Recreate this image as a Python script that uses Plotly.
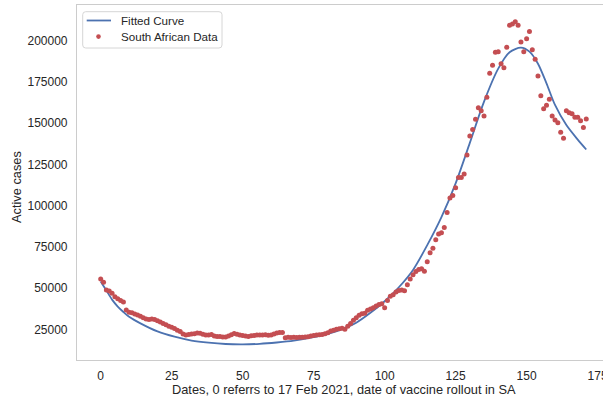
import plotly.graph_objects as go

# ---- data ----
days = list(range(0, 172))
active_cases = [
    55500, 53500, 48800, 48200, 46800, 44800, 43500, 42400, 41500, 36700,
    35300, 35000, 34300, 33600, 32900, 32000, 31200, 31000, 31200, 31000,
    30200, 29400, 28500, 27700, 26800, 26200, 25500, 24500, 23700, 22200,
    21500, 21800, 22100, 22300, 22700, 22600, 22000, 21500, 21600, 21800,
    21000, 20700, 20600, 20400, 20400, 21000, 21700, 22400, 22000, 21600,
    21200, 20900, 20600, 21100, 21300, 21500, 21500, 21600, 21700, 21400,
    21500, 22200, 22800, 23000, 23000, 19900, 20150, 20100, 20150, 20000,
    20150, 20200, 20300, 20500, 20900, 21300, 21500, 21700, 21800, 22300,
    22900, 23900, 24500, 25000, 25400, 25600, 25000, 26800, 28500, 30500,
    32000, 33500, 34500, 34700, 36500, 37300, 38000, 39200, 40000, 40500,
    38100, 42500, 45000, 46000, 47600, 48500, 48800, 48400, 52000, 55500,
    58000, 60000, 61300, 61700, 60200, 66000, 71400, 74200, 79300, 82800,
    83500, 86700, 95800, 104600, 106100, 110800, 117100, 117100, 119100, 130700,
    142200, 146200, 152300, 159300, 157500, 154300, 165600, 180200, 185000, 192900,
    193300, 186000, 183600, 196000, 209300, 210100, 211500, 209300, 199200, 193300,
    201200, 205600, 194400, 188700, 178500, 166600, 158700, 160800, 164400, 154300,
    151900, 150200, 144400, 140800, 157500, 156300, 155700, 153500, 153500, 151400,
    147400, 152500,
]

fit_days = [0, 2, 4, 6, 8, 10, 14, 20, 26, 32, 38, 44, 50, 56, 62, 68, 74, 80,
            86, 90, 95, 100, 105, 110, 115, 120, 125, 130, 135, 140, 144, 148,
            151, 154, 157, 160, 164, 168, 171]
fit_values = [54000, 48500, 43000, 38800, 35500, 32600, 28600, 23700, 20500,
              18200, 16900, 16100, 15900, 16200, 17000, 18100, 19900, 22200,
              25700, 29000, 35000, 42000, 50500, 61000, 76000, 93000, 113500,
              138000, 163000, 183000, 193000, 195700, 193300, 186000, 174100,
              161000, 148800, 140000, 134000]

x_ticks = [0, 25, 50, 75, 100, 125, 150, 175]
y_ticks = [25000, 50000, 75000, 100000, 125000, 150000, 175000, 200000]

x_title = "Dates, 0 referrs to 17 Feb 2021, date of vaccine rollout in SA"
y_title = "Active cases"
legend_names = ["Fitted Curve", "South African Data"]

text_color = "#262626"
spine_color = "#cccccc"
line_color = "#4C72B0"
dot_color = "#C44E52"
font_family = "Liberation Sans, Arial, sans-serif"

W, H = 603, 403
ML, MR, MT, MB = 77, 0, 5, 43
PW, PH = W - ML - MR, H - MT - MB


def px_x(p):
    return (p - ML) / PW


def px_y(p):
    return (H - MB - p) / PH


def rounded_box(x0, y0, x1, y1, rad):
    # path in paper coordinates, built from pixel positions
    pts = [
        f"M {px_x(x0 + rad)},{px_y(y0)}",
        f"L {px_x(x1 - rad)},{px_y(y0)}",
        f"Q {px_x(x1)},{px_y(y0)} {px_x(x1)},{px_y(y0 + rad)}",
        f"L {px_x(x1)},{px_y(y1 - rad)}",
        f"Q {px_x(x1)},{px_y(y1)} {px_x(x1 - rad)},{px_y(y1)}",
        f"L {px_x(x0 + rad)},{px_y(y1)}",
        f"Q {px_x(x0)},{px_y(y1)} {px_x(x0)},{px_y(y1 - rad)}",
        f"L {px_x(x0)},{px_y(y0 + rad)}",
        f"Q {px_x(x0)},{px_y(y0)} {px_x(x0 + rad)},{px_y(y0)}",
        "Z",
    ]
    return " ".join(pts)


fig = go.Figure()
fig.add_trace(go.Scatter(
    x=fit_days, y=fit_values, mode="lines", name=legend_names[0],
    line=dict(color=line_color, width=1.8, shape="spline", smoothing=0.8),
    showlegend=False,
))
fig.add_trace(go.Scatter(
    x=days, y=active_cases, mode="markers", name=legend_names[1],
    marker=dict(color=dot_color, size=5, line=dict(width=0)),
    showlegend=False,
))

# legend drawn as a framed box with real text
r = 2.3
shapes = [
    dict(type="path", xref="paper", yref="paper",
         path=rounded_box(82.7, 11.7, 222, 48, 3),
         line=dict(color="#d6d6d6", width=1), fillcolor="rgba(255,255,255,0.85)",
         layer="above"),
    dict(type="line", xref="paper", yref="paper",
         x0=px_x(86.7), x1=px_x(111), y0=px_y(20.5), y1=px_y(20.5),
         line=dict(color=line_color, width=1.8), layer="above"),
    dict(type="circle", xref="paper", yref="paper",
         x0=px_x(98.5 - r), x1=px_x(98.5 + r), y0=px_y(36.6 + r), y1=px_y(36.6 - r),
         line=dict(width=0), fillcolor=dot_color, layer="above"),
]

annotations = [
    dict(text=x_title, xref="paper", yref="paper", x=px_x(344), y=px_y(390),
         xanchor="center", yanchor="middle", showarrow=False,
         font=dict(size=12.8, color=text_color)),
    dict(text=y_title, xref="paper", yref="paper", x=px_x(16), y=px_y(187),
         xanchor="center", yanchor="middle", showarrow=False, textangle=-90,
         font=dict(size=12.8, color=text_color)),
    dict(text=legend_names[0], xref="paper", yref="paper", x=px_x(119), y=px_y(20.5),
         xanchor="left", yanchor="middle", showarrow=False,
         font=dict(size=11.6, color=text_color)),
    dict(text=legend_names[1], xref="paper", yref="paper", x=px_x(119), y=px_y(36.6),
         xanchor="left", yanchor="middle", showarrow=False,
         font=dict(size=11.6, color=text_color)),
]

fig.update_layout(
    width=W, height=H,
    margin=dict(l=ML, r=MR, t=MT, b=MB, autoexpand=False),
    paper_bgcolor="white", plot_bgcolor="white",
    font=dict(family=font_family, size=12, color=text_color),
    showlegend=False,
    shapes=shapes,
    annotations=annotations,
)
fig.update_xaxes(
    range=[-8.35, 176.9], tickvals=x_ticks, ticktext=[str(v) for v in x_ticks],
    showgrid=False, zeroline=False, showline=True, linecolor=spine_color,
    linewidth=1.2, mirror=True, ticks="", ticklabelstandoff=4, automargin=False,
    ticklabeloverflow="allow",
)
fig.update_yaxes(
    range=[6390, 221600], tickvals=y_ticks, ticktext=[str(v) for v in y_ticks],
    showgrid=False, zeroline=False, showline=True, linecolor=spine_color,
    linewidth=1.2, ticks="", ticklabelstandoff=6, automargin=False,
    ticklabeloverflow="allow",
)

fig.write_html("out.html", config={"displayModeBar": False},
               post_script="document.body.style.margin='0px';")
